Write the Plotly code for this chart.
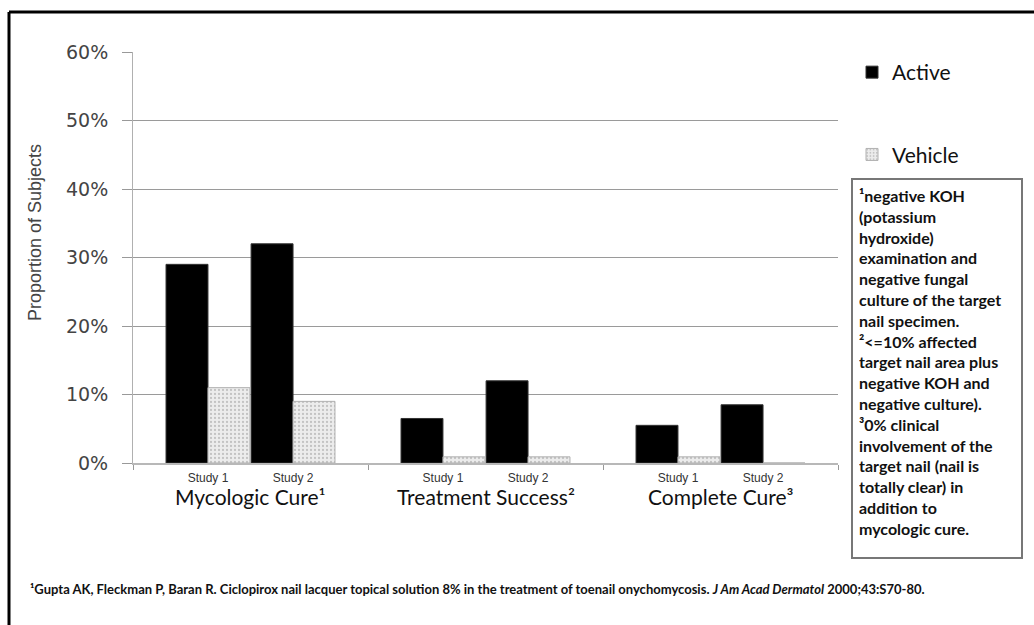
import plotly.graph_objects as go

# Outcome groups and the two studies within each
outcomes = ["Mycologic Cure¹", "Treatment Success²", "Complete Cure³"]
studies = ["Study 1", "Study 2"]

# Proportion of subjects reaching each outcome (fraction)
active = [0.29, 0.32, 0.065, 0.12, 0.055, 0.085]
vehicle = [0.11, 0.09, 0.009, 0.009, 0.009, 0.0]

y_ticks = [0, 0.1, 0.2, 0.3, 0.4, 0.5, 0.6]

footnote_box = [
    "¹negative KOH",
    "(potassium",
    "hydroxide)",
    "examination and",
    "negative fungal",
    "culture of the target",
    "nail specimen.",
    "²<=10% affected",
    "target nail area plus",
    "negative KOH and",
    "negative culture).",
    "³0% clinical",
    "involvement of the",
    "target nail (nail is",
    "totally clear) in",
    "addition to",
    "mycologic cure.",
]
reference = ("¹Gupta AK, Fleckman P, Baran R. Ciclopirox nail lacquer topical solution 8% in the "
             "treatment of toenail onychomycosis. <i>J Am Acad Dermatol</i> 2000;43:S70-80.")

# Each outcome group spans 2 x-units; studies sit either side of the group centre
group_centres = [1, 3, 5]
study_offset = 0.362
bar_w = 0.357
x_pos = []
for c in group_centres:
    x_pos += [c - study_offset, c + study_offset]
x_labels = studies * len(outcomes)

# Plot area in pixels, used to place paper-referenced annotations
L, R, T, B = 133, 838, 52, 463
PW, PH = R - L, B - T


def px(x):
    return (x - L) / PW


def py(y):
    return (B - y) / PH


fig = go.Figure()
fig.add_trace(go.Bar(
    name="Active", x=x_pos, y=active, width=bar_w, offset=-bar_w,
    marker=dict(color="black", line=dict(color="#333333", width=1)),
    legendgroup="a",
))
fig.add_trace(go.Bar(
    name="Vehicle", x=x_pos, y=vehicle, width=bar_w, offset=0,
    marker=dict(
        color="#ececec",
        line=dict(color="#b0b0b0", width=1),
        pattern=dict(shape=".", fgcolor="#9a9a9a", bgcolor="#ececec", size=4, solidity=0.25),
    ),
    legendgroup="v",
))

fig.update_layout(
    width=1034, height=625,
    margin=dict(l=L, r=1034 - R, t=T, b=625 - B),
    paper_bgcolor="white", plot_bgcolor="white",
    barmode="overlay",
    showlegend=True,
    legend=dict(
        x=px(852), xanchor="left", y=py(52), yanchor="top",
        font=dict(family="Lato", size=21, color="#111111"),
        tracegroupgap=52, traceorder="grouped",
        itemwidth=30, bgcolor="rgba(0,0,0,0)",
    ),
    font=dict(family="DejaVu Sans", color="#444444"),
)

fig.update_xaxes(
    range=[0, 6], tickmode="array", tickvals=x_pos, ticktext=x_labels,
    ticks="", ticklabelstandoff=3,
    tickfont=dict(family="Liberation Sans Narrow, Liberation Sans", size=12, color="#333333"),
    showgrid=False, zeroline=False,
    showline=True, linecolor="#b8b8b8", linewidth=2,
    minor=dict(tickvals=[0, 2, 4, 6], ticks="outside", ticklen=5, tickcolor="#999999"),
)
fig.update_yaxes(
    range=[0, 0.6], tickvals=y_ticks, tickformat=".0%",
    ticks="outside", ticklen=10, tickcolor="#999999", ticklabelstandoff=10,
    tickfont=dict(family="DejaVu Sans", size=19, color="#444444"),
    showgrid=True, gridcolor="#9a9a9a", gridwidth=1,
    showline=True, linecolor="#b0b0b0", linewidth=1,
    zeroline=False,
)

# Outcome group names under the study labels
for c, name in zip(group_centres, outcomes):
    fig.add_annotation(
        x=c, y=py(497), xref="x", yref="paper", text=name, showarrow=False,
        font=dict(family="Lato", size=21, color="#111111"), yanchor="middle",
    )

# Axis title
fig.add_annotation(
    x=px(35), y=py(233), xref="paper", yref="paper", text="Proportion of Subjects",
    textangle=-90, showarrow=False, xanchor="center", yanchor="middle",
    font=dict(family="Liberation Sans", size=18, color="#444444"),
)

# Outcome definitions box
fig.add_annotation(
    x=px(851), y=py(178), xref="paper", yref="paper",
    xanchor="left", yanchor="top", align="left", showarrow=False,
    text="<br>".join(f"<b>{line}</b>" for line in footnote_box),
    font=dict(family="Lato", size=16, color="#111111"),
    bordercolor="#777777", borderwidth=2, borderpad=6, width=156, height=365,
    valign="top", bgcolor="white",
)

# Source reference
fig.add_annotation(
    x=px(28), y=py(589), xref="paper", yref="paper",
    xanchor="left", yanchor="middle", showarrow=False,
    text=f"<b>{reference}</b>",
    font=dict(family="Lato", size=13, color="#111111"),
)

# Frame lines along the top and left of the slide
fig.add_shape(type="line", xref="paper", yref="paper",
              x0=px(9), x1=px(1034), y0=py(12), y1=py(12),
              line=dict(color="black", width=3))
fig.add_shape(type="line", xref="paper", yref="paper",
              x0=px(9), x1=px(9), y0=py(12), y1=py(625),
              line=dict(color="black", width=3))

fig.write_html("out.html")
